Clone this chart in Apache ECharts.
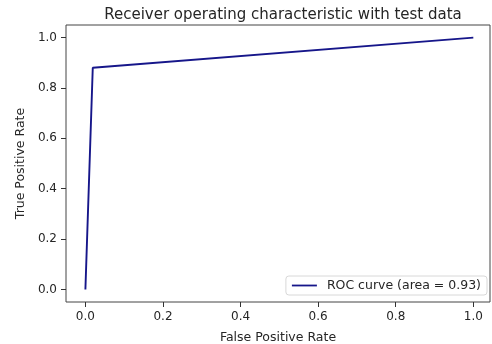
<!DOCTYPE html>
<html>
<head>
<meta charset="utf-8">
<script src="https://cdn.jsdelivr.net/npm/echarts@6/dist/echarts.min.js"></script>
<style>
    html, body { margin: 0; padding: 0; background: #fff; }
    #chart { width: 492px; height: 344px; }
</style>
</head>
<body>
<div id="chart"></div>
<script>
// ROC curve points (false positive rate, true positive rate)
const fpr = [0.0, 0.019, 1.0]
const tpr = [0.0, 0.88, 1.0]
const tickValues = [0, 0.2, 0.4, 0.6, 0.8, 1.0]
const seriesName = 'ROC curve (area = 0.93)'

const FONT = 'DejaVu Sans'
const lineColor = '#16168a'

const myChart = echarts.init(document.getElementById('chart'))

const axisCommon = {
    type: 'value',
    splitLine: { show: false },
    axisLine: { show: false, onZero: false },
    axisTick: {
        show: true,
        inside: false,
        length: 5,
        customValues: tickValues,
        lineStyle: { color: '#333', width: 1 }
    },
    axisLabel: {
        customValues: tickValues,
        formatter: (v) => v.toFixed(1),
        color: '#262626',
        fontFamily: FONT,
        fontSize: 12,
        margin: 9
    },
    nameLocation: 'middle',
    nameTextStyle: { fontFamily: FONT, fontSize: 12.5, color: '#262626' }
}

const option = {
    animation: false,
    backgroundColor: '#fff',
    title: {
        text: 'Receiver operating characteristic with test data',
        left: 278,
        top: 3,
        textAlign: 'center',
        textStyle: { fontFamily: FONT, fontSize: 15, fontWeight: 'normal', color: '#262626' }
    },
    grid: {
        left: 66,
        right: 2,
        top: 25,
        bottom: 42,
        outerBoundsMode: 'none',
        containLabel: false,
        show: true,
        borderColor: '#444',
        borderWidth: 1,
        backgroundColor: '#fff'
    },
    legend: {
        data: [seriesName],
        right: 5,
        bottom: 49,
        orient: 'vertical',
        backgroundColor: '#fff',
        borderColor: '#d8d8d8',
        borderWidth: 1,
        borderRadius: 3,
        padding: [3, 6, 3, 6],
        itemWidth: 25,
        itemHeight: 12,
        icon: 'path://M0,5.1 L25,5.1 L25,6.9 L0,6.9 Z',
        textStyle: { fontFamily: FONT, fontSize: 12.5, color: '#262626', padding: [0, 0, 0, 5] }
    },
    xAxis: Object.assign({}, axisCommon, {
        min: -0.05,
        max: 1.043,
        name: 'False Positive Rate',
        nameGap: 29
    }),
    yAxis: Object.assign({}, axisCommon, {
        min: -0.05,
        max: 1.05,
        name: 'True Positive Rate',
        nameGap: 37
    }),
    series: [{
        name: seriesName,
        type: 'line',
        data: fpr.map((x, i) => [x, tpr[i]]),
        showSymbol: false,
        symbol: 'none',
        color: lineColor,
        lineStyle: { color: lineColor, width: 1.9 }
    }]
}

myChart.setOption(option)
</script>
</body>
</html>
